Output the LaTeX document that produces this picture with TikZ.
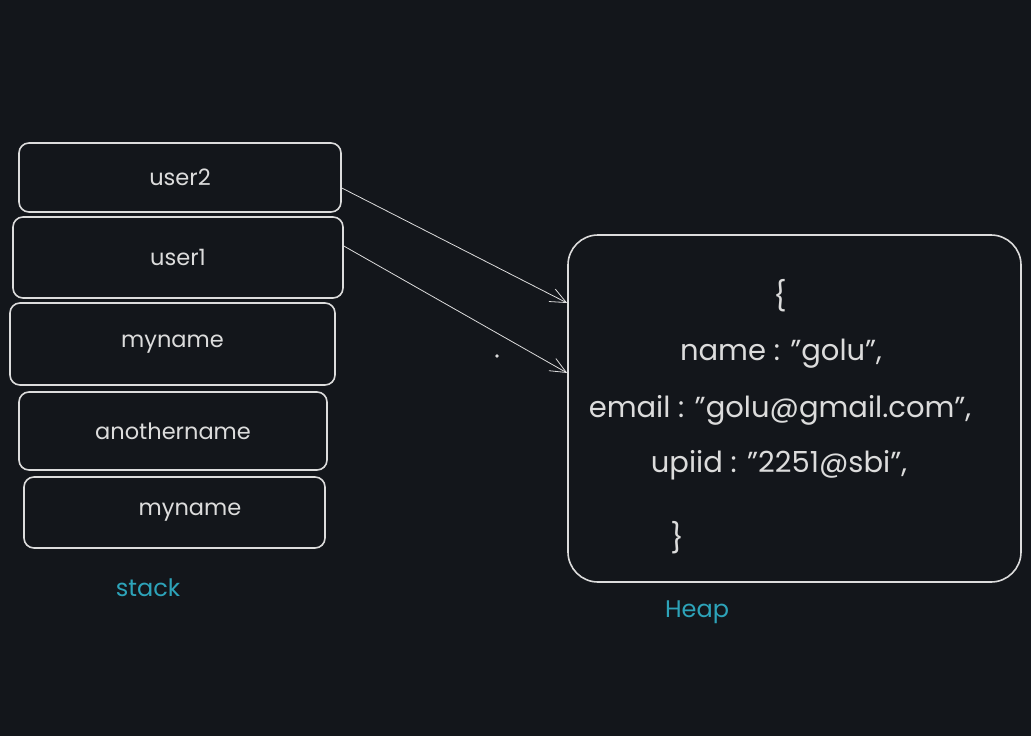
\documentclass[tikz,border=0pt]{standalone}
\usepackage{fontspec}
\setmainfont{Poppins}
\usetikzlibrary{arrows.meta}
\definecolor{bgdark}{RGB}{19,22,27}
\definecolor{chalk}{RGB}{220,220,220}
\definecolor{tealtext}{RGB}{45,163,185}
\newcommand{\dq}{\symbol{34}}

\begin{document}
\begin{tikzpicture}[x = 1pt, y = -1pt,
    slot/.style = {draw = chalk, line width = 1.6pt, rounded corners = 10pt, text = chalk, font = \fontsize{22.5}{26}\selectfont},
    heaptext/.style = {text = chalk, font = \fontsize{29}{34}\selectfont},
    caption/.style = {text = tealtext, font = \fontsize{24}{28}\selectfont},
    pointer/.style = {-{Straight Barb[length = 16pt, width = 14pt]}, draw = chalk, line width = 0.8pt}]
    \fill [bgdark] (0, 0) rectangle (1031, 736);
    \useasboundingbox (0, 0) rectangle (1031, 736);
    % stack frames
    \node [slot, minimum width = 322, minimum height = 69] (user2) at (180, 177.5) {user2};
    \node [slot, minimum width = 330, minimum height = 81] (user1) at (178, 257.5) {user1};
    \node [slot, minimum width = 325, minimum height = 82] (myname) at (172.5, 344) {myname};
    \node [slot, minimum width = 308, minimum height = 78] (anothername) at (173, 431) {anothername};
    \node [slot, minimum width = 301, minimum height = 71] (myname2) at (174.5, 512.5) {\hspace*{31pt}myname};
    \node [caption] (stacklabel) at (148, 588) {stack};
    % heap object
    \node [draw = chalk, line width = 1.6pt, rounded corners = 30pt, minimum width = 453, minimum height = 347] (heap) at (794.5, 408.5) {};
    \node [heaptext] (open) at (780, 296) {\{};
    \node [heaptext] (namekey) at (781, 354) {name : \dq golu\dq,};
    \node [heaptext] (emailkey) at (780, 410) {email : \dq golu@gmail.com\dq,};
    \node [heaptext] (upikey) at (779, 465) {upiid : \dq 2251@sbi\dq,};
    \node [heaptext] (close) at (677, 538) {\}};
    \node [caption] (heaplabel) at (697, 612) {Heap};
    \node [circle, fill = chalk, inner sep = 1.4pt] (dot) at (497, 356) {};
    % references
    \draw [pointer] ([yshift = -10.5pt]user2.east) -- ([yshift = 105.5pt]heap.west);
    \draw [pointer] ([yshift = 11.5pt]user1.east) -- ([yshift = 35.5pt]heap.west);
  \end{tikzpicture}
\end{document}
